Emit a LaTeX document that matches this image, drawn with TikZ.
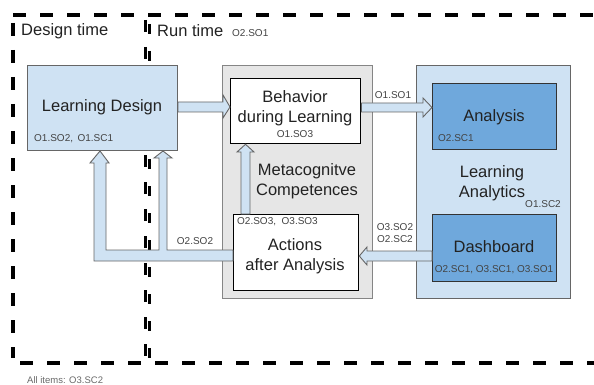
\documentclass[tikz,border=0pt]{standalone}
\usepackage{fontspec}
\setmainfont{Liberation Sans}
\usetikzlibrary{calc}
\definecolor{lblue}{HTML}{CFE2F3}
\definecolor{mblue}{HTML}{6FA8DC}
\definecolor{lgray}{HTML}{E6E6E6}
\definecolor{bord}{HTML}{666666}
\definecolor{txt}{HTML}{222222}
\definecolor{stxt}{HTML}{434343}
\tikzset{
  big/.style={font=\fontsize{16.5}{20.5}\selectfont, text=txt, inner sep=0pt},
  small/.style={font=\fontsize{10}{12}\selectfont, text=stxt, inner sep=0pt},
  boxA/.style={draw=bord, line width=1pt, anchor=north west, inner sep=0pt},
  barr/.style={draw=bord, fill=lblue, line width=0.9pt, line join=miter},
  dashline/.style={line width=3.8pt, dash pattern=on 13pt off 14pt},
}
\begin{document}
\begin{tikzpicture}[x=1pt,y=-1pt]
\useasboundingbox (0,0) rectangle (594,385);
% dashed frames
\draw[dashline] (13,15) -- (594,15);
\draw[dashline] (20,363) -- (594,363);
\draw[dashline] (13,23) -- (13,358);
\draw[line width=3pt, dash pattern=on 12pt off 15pt] (145.5,20) -- (145.5,358);
\draw[line width=3pt, dash pattern=on 10pt off 17pt, dash phase=-4pt] (149,20) -- (149,358);

\node[big, anchor=west] (dt) at (21,31) {Design time};
\node[big, anchor=west] (rt) at (157,31) {Run time};
\node[small, anchor=west] (rtl) at (232,33) {O2.SO1};

% boxes
\node[boxA, fill=lblue, minimum width=150pt, minimum height=85pt] (ld) at (27,65) {};
\node[big] (ldt) at (102,107) {Learning Design};
\node[small, anchor=west] (ldl) at (34,139) {O1.SO2,\, O1.SC1};

\node[boxA, draw=bord!80, fill=lgray, minimum width=150pt, minimum height=233pt] (gb) at (222,65) {};
\node[boxA, draw=black, line width=1.3pt, fill=white, minimum width=130pt, minimum height=65pt] (beh) at (230,78) {};
\node[big, align=center] (beht) at (295,108) {Behavior\\during Learning};
\node[small] (behl) at (295,134) {O1.SO3};

\node[big, align=center] (meta) at (307,181) {Metacognitve\\Competences};

\node[boxA, draw=black, line width=1.3pt, fill=white, minimum width=125pt, minimum height=76pt] (act) at (233,214) {};
\node[small, anchor=west] (actl) at (237,222) {O2.SO3,\ \ O3.SO3};
\node[big, align=center] (actt) at (295,256) {Actions\\after Analysis};

\node[boxA, fill=lblue, minimum width=154pt, minimum height=233pt] (la) at (416,65) {};
\node[big, align=center] (lat) at (492,183) {Learning\\Analytics};
\node[small, anchor=east] (lal) at (561,204) {O1.SC2};

\node[boxA, draw=black!80, fill=mblue, minimum width=124pt, minimum height=66pt] (ana) at (432,83) {};
\node[big] (anat) at (494,117) {Analysis};
\node[small, anchor=west] (anal) at (438,138) {O2.SC1};

\node[boxA, draw=black!80, fill=mblue, minimum width=124pt, minimum height=67pt] (dash) at (432,214) {};
\node[big] (dasht) at (494,247) {Dashboard};
\node[small] (dashl) at (494,270) {O2.SC1, O3.SC1, O3.SO1};

% block arrows
\draw[barr] (ld.east|-0,102) -- (223,102) -- (223,95) -- (beh.west|-0,107) -- (223,118) -- (223,112) -- (ld.east|-0,112) -- cycle;
\draw[barr] (beh.east|-0,103) -- (423,103) -- (423,98) -- (ana.west|-0,107.5) -- (423,117) -- (423,112) -- (beh.east|-0,112) -- cycle;
\draw[barr] (dash.west|-0,251) -- (367,251) -- (367,247) -- (act.east|-0,256) -- (367,265) -- (367,261) -- (dash.west|-0,261) -- cycle;
\draw[barr] (241,0|-act.north) -- (241,152) -- (237,152) -- (245.5,0|-beh.south) -- (254,152) -- (250,152) -- (250,0|-act.north) -- cycle;
\draw[barr] (act.west|-0,250) -- (167,250) -- (167,158) -- (172,158) -- (163,0|-ld.south) -- (154,158) -- (159,158) -- (159,250) -- (106,250) -- (106,163) -- (109,163) -- (100,0|-ld.south) -- (90,163) -- (94,163) -- (94,261) -- (act.west|-0,261) -- cycle;

\node[small] (l1) at (393,95) {O1.SO1};
\node[small, align=center] (l2) at (395,233) {O3.SO2\\O2.SC2};
\node[small] (l3) at (195,241) {O2.SO2};

\node[small, anchor=west, font=\fontsize{9.5}{11}\selectfont, text=stxt!80] (all) at (27,380) {All items: O3.SC2};
\end{tikzpicture}
\end{document}
